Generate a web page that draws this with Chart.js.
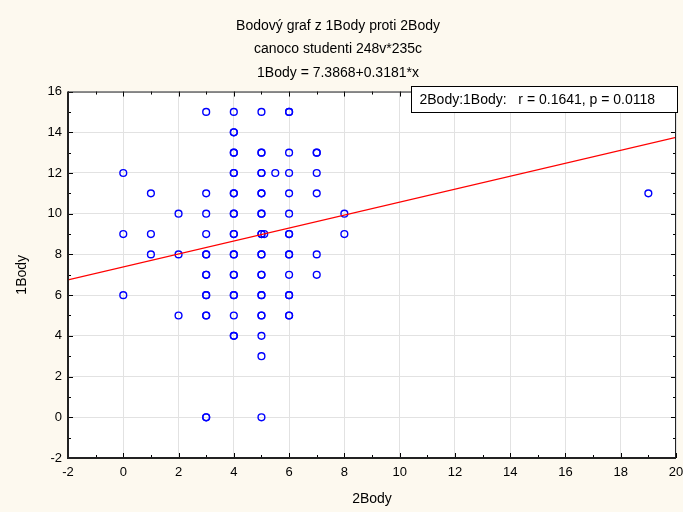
<!DOCTYPE html>
<html>
<head>
<meta charset="utf-8">
<script src="https://cdn.jsdelivr.net/npm/chart.js@4/dist/chart.umd.min.js"></script>
<style>
  html, body { margin: 0; padding: 0; background: #fdf9ef; }
  #wrap { width: 683px; height: 512px; }
</style>
</head>
<body>
<div id="wrap"><canvas id="chart" width="683" height="512"></canvas></div>
<script>
const body2 = [0, 0, 0, 1, 1, 1, 2, 2, 2,
  3, 3, 3, 3, 3, 3, 3, 3, 3,
  4, 4, 4, 4, 4, 4, 4, 4, 4, 4, 4, 4,
  5, 5, 5, 5, 5, 5, 5, 5, 5, 5, 5, 5, 5,
  5.1, 5.5,
  6, 6, 6, 6, 6, 6, 6, 6, 6, 6,
  7, 7, 7, 7, 7, 8, 8, 19];
const body1 = [12, 9, 6, 11, 9, 8, 10, 8, 5,
  15, 11, 10, 9, 8, 7, 6, 5, 0,
  15, 14, 13, 12, 11, 10, 9, 8, 7, 6, 5, 4,
  15, 13, 12, 11, 10, 9, 8, 7, 6, 5, 4, 3, 0,
  9, 12,
  15, 13, 12, 11, 10, 9, 8, 7, 6, 5,
  13, 12, 11, 8, 7, 10, 9, 11];
const counts = [1, 1, 1, 1, 1, 1, 1, 1, 1,
  1, 1, 1, 1, 2, 2, 2, 2, 2,
  1, 2, 2, 2, 2, 2, 2, 2, 2, 2, 1, 2,
  1, 2, 2, 2, 2, 2, 2, 2, 2, 2, 1, 1, 1,
  1, 1,
  2, 1, 1, 1, 1, 2, 2, 1, 2, 2,
  2, 1, 1, 1, 1, 1, 1, 1];

const titleLines = ['Bodový graf z 1Body proti 2Body', 'canoco studenti 248v*235c', '1Body = 7.3868+0.3181*x'];
const intercept = 7.3868;
const slope = 0.3181;
const corrText = '2Body:1Body:   r = 0.1641, p = 0.0118';
const xRange = [-2, 20];
const yRange = [-2, 16];

const FONT = '"Liberation Sans", Arial, sans-serif';

const points = [];
body2.forEach((x, i) => {
  for (let k = 0; k < counts[i]; k++) points.push({ x: x, y: body1[i] });
});

const fitLine = xRange.map(x => ({ x: x, y: intercept + slope * x }));

// frame, inward ticks and the r/p box
const framePlugin = {
  id: 'frame',
  afterDraw(chart) {
    const { ctx, chartArea: a, scales } = chart;
    const xs = scales.x, ys = scales.y;
    ctx.save();
    ctx.strokeStyle = '#000';
    ctx.lineWidth = 1;
    // ticks
    for (let v = xRange[0]; v <= xRange[1]; v += 1) {
      const px = Math.round(xs.getPixelForValue(v)) + 0.5;
      const len = v % 2 === 0 ? 5 : 3;
      ctx.beginPath();
      ctx.moveTo(px, a.bottom); ctx.lineTo(px, a.bottom - len);
      ctx.moveTo(px, a.top); ctx.lineTo(px, a.top + len);
      ctx.stroke();
    }
    for (let v = yRange[0]; v <= yRange[1]; v += 1) {
      const py = Math.round(ys.getPixelForValue(v)) + 0.5;
      const len = v % 2 === 0 ? 5 : 3;
      ctx.beginPath();
      ctx.moveTo(a.left, py); ctx.lineTo(a.left + len, py);
      ctx.moveTo(a.right, py); ctx.lineTo(a.right - len, py);
      ctx.stroke();
    }
    // frame
    ctx.strokeStyle = '#222';
    ctx.lineWidth = 1;
    ctx.strokeRect(a.left + 0.5, a.top + 0.5, a.right - a.left - 1, a.bottom - a.top - 1);
    ctx.lineWidth = 2;
    ctx.beginPath();
    ctx.moveTo(a.left, a.top); ctx.lineTo(a.left, a.bottom); ctx.lineTo(a.right, a.bottom);
    ctx.stroke();

    // correlation box
    ctx.font = '14px ' + FONT;
    const bx = 411.5, by = 86.5, bw = 266, bh = 26;
    ctx.fillStyle = '#fff';
    ctx.fillRect(bx, by, bw, bh);
    ctx.strokeStyle = '#000';
    ctx.lineWidth = 1;
    ctx.strokeRect(bx, by, bw, bh);
    ctx.fillStyle = '#000';
    ctx.textBaseline = 'middle';
    ctx.textAlign = 'left';
    ctx.fillText(corrText, bx + 8, by + bh / 2 + 1);
    ctx.restore();
  }
};

const bgPlugin = {
  id: 'bg',
  beforeDraw(chart) {
    const { ctx, chartArea: a } = chart;
    ctx.save();
    ctx.fillStyle = '#fdf9ef';
    ctx.fillRect(0, 0, chart.width, chart.height);
    ctx.fillStyle = '#fff';
    ctx.fillRect(a.left, a.top, a.right - a.left, a.bottom - a.top);
    ctx.restore();
  }
};

new Chart(document.getElementById('chart'), {
  type: 'scatter',
  data: {
    datasets: [
      {
        data: points,
        pointStyle: 'circle',
        pointRadius: 3.4,
        pointBorderWidth: 1.4,
        borderColor: '#0000ff',
        backgroundColor: 'rgba(0,0,0,0)',
        order: 2
      },
      {
        type: 'line',
        data: fitLine,
        borderColor: '#ff0000',
        borderWidth: 1.2,
        pointRadius: 0,
        fill: false,
        order: 1
      }
    ]
  },
  options: {
    responsive: false,
    animation: false,
    layout: { padding: { left: 0, right: 7, top: 0, bottom: 0 } },
    plugins: {
      legend: { display: false },
      tooltip: { enabled: false },
      title: {
        display: true,
        text: titleLines,
        color: '#000',
        font: { family: FONT, size: 14, weight: 'normal', lineHeight: 1.68 },
        padding: { top: 14, bottom: 7 }
      }
    },
    scales: {
      x: {
        type: 'linear',
        min: xRange[0],
        max: xRange[1],
        afterFit(s) { s.height = 54; s.paddingRight = 0; s.paddingLeft = 0; },
        grid: { color: '#e2e2e2', drawTicks: false },
        border: { display: false },
        ticks: { stepSize: 2, padding: 7, color: '#000', font: { family: FONT, size: 13 } },
        title: { display: true, text: '2Body', color: '#000', font: { family: FONT, size: 14 }, padding: { top: 0, bottom: 4 } }
      },
      y: {
        type: 'linear',
        min: yRange[0],
        max: yRange[1],
        afterFit(s) { s.width = 68; },
        grid: { color: '#e2e2e2', drawTicks: false },
        border: { display: false },
        ticks: { stepSize: 2, padding: 6, color: '#000', font: { family: FONT, size: 13 } },
        title: { display: true, text: '1Body', color: '#000', font: { family: FONT, size: 14 }, padding: { top: 14, bottom: 0 } }
      }
    }
  },
  plugins: [bgPlugin, framePlugin]
});
</script>
</body>
</html>
